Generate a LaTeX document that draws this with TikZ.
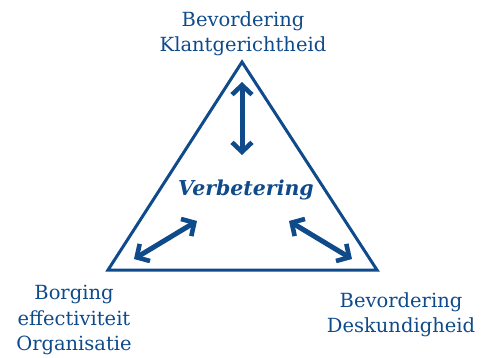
\documentclass[tikz,border=0pt]{standalone}
\usepackage{fontspec}
\setmainfont{DejaVu Serif}
\usetikzlibrary{arrows.meta}
\definecolor{dblue}{HTML}{0F4A8A}
\begin{document}
\begin{tikzpicture}[x=1pt,y=-1pt,
  lbl/.style={text=dblue,align=center,font=\fontsize{19.5}{25.5}\selectfont,inner sep=0pt},
  barbtip/.tip={Straight Barb[length=9.5pt,width=20pt,line width=4.6pt,line join=miter,line cap=butt]},
  arr/.style={draw=dblue,line width=5pt,{barbtip}-{barbtip}}]
\useasboundingbox (0,0) rectangle (487,358);
\coordinate (top) at (242,62);
\coordinate (bl) at (108,270);
\coordinate (br) at (377,270);
\draw[dblue,line width=3pt,line join=miter] (top) -- (bl) -- (br) -- cycle;
\coordinate (v1) at (242,82);
\coordinate (v2) at (242,155);
\coordinate (l1) at (134,259);
\coordinate (l2) at (197,221);
\coordinate (r1) at (289,221);
\coordinate (r2) at (352,259);
\draw[arr] (v1) -- (v2);
\draw[arr] (l1) -- (l2);
\draw[arr] (r1) -- (r2);
\node[text=dblue,font=\fontsize{20.5}{24}\selectfont\bfseries\itshape,inner sep=0pt] (verb) at (246,190) {Verbetering};
\node[lbl] (ka) at (243,34) {Bevordering\\Klantgerichtheid};
\node[lbl] (bo) at (74,320) {Borging\\effectiviteit\\Organisatie};
\node[lbl] (de) at (401,315) {Bevordering\\Deskundigheid};
\end{tikzpicture}
\end{document}
